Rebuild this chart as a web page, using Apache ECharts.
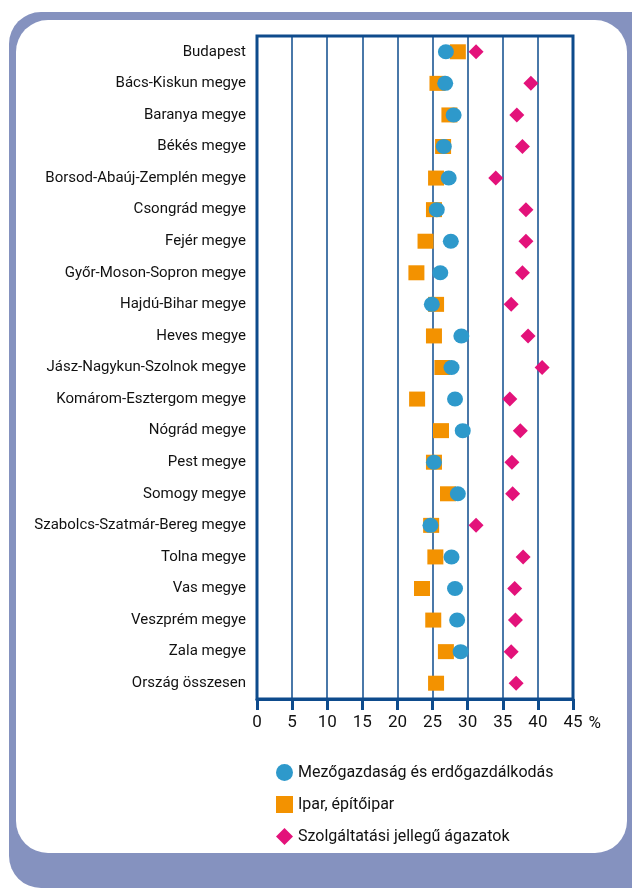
<!DOCTYPE html>
<html>
<head>
<meta charset="utf-8">
<script src="https://cdn.jsdelivr.net/npm/echarts@6/dist/echarts.min.js"></script>
<style>
html, body { margin: 0; padding: 0; background: #fff; }
#main { width: 632px; height: 888px; }
</style>
</head>
<body>
<div id="main"></div>
<script>
var categories = ['Budapest', 'Bács-Kiskun megye', 'Baranya megye', 'Békés megye',
    'Borsod-Abaúj-Zemplén megye', 'Csongrád megye', 'Fejér megye', 'Győr-Moson-Sopron megye',
    'Hajdú-Bihar megye', 'Heves megye', 'Jász-Nagykun-Szolnok megye', 'Komárom-Esztergom megye',
    'Nógrád megye', 'Pest megye', 'Somogy megye', 'Szabolcs-Szatmár-Bereg megye',
    'Tolna megye', 'Vas megye', 'Veszprém megye', 'Zala megye', 'Ország összesen'];

var mezogazdasag = [26.9, 26.8, 28.0, 26.6, 27.3, 25.6, 27.6, 26.1, 24.9, 29.1, 27.7,
    28.2, 29.3, 25.2, 28.6, 24.7, 27.7, 28.2, 28.5, 29.0, null];
var ipar = [28.6, 25.7, 27.4, 26.5, 25.5, 25.2, 24.0, 22.7, 25.5, 25.2, 26.4,
    22.8, 26.2, 25.2, 27.2, 24.8, 25.4, 23.5, 25.1, 26.9, 25.5];
var szolgaltatas = [31.2, 39.0, 37.0, 37.8, 34.0, 38.3, 38.3, 37.8, 36.2, 38.6, 40.6,
    36.0, 37.5, 36.3, 36.4, 31.2, 37.9, 36.7, 36.8, 36.2, 36.9];

var seriesNames = ['Mezőgazdaság és erdőgazdálkodás', 'Ipar, építőipar', 'Szolgáltatási jellegű ágazatok'];

var font = "Roboto, 'Liberation Sans', sans-serif";
var navy = '#0e4b8c';

var myChart = echarts.init(document.getElementById('main'));

var option = {
    animation: false,
    backgroundColor: '#fff',
    textStyle: {fontFamily: font},
    graphic: [
        {
            type: 'rect',
            z: -10,
            silent: true,
            shape: {x: 9, y: 12, width: 660, height: 876, r: 32},
            style: {fill: '#8592bf'}
        },
        {
            type: 'rect',
            z: -9,
            silent: true,
            shape: {x: 16, y: 20, width: 611, height: 833, r: 32},
            style: {fill: '#ffffff'}
        }
    ],
    grid: {
        left: 257,
        right: 59,
        top: 36,
        bottom: 189,
        show: true,
        borderColor: navy,
        borderWidth: 3,
        backgroundColor: 'transparent'
    },
    legend: {
        orient: 'vertical',
        left: 271,
        top: 759,
        itemWidth: 17,
        itemHeight: 17,
        itemGap: 15,
        data: [
            {name: seriesNames[0], icon: 'circle'},
            {name: seriesNames[1], icon: 'rect'},
            {name: seriesNames[2], icon: 'diamond'}
        ],
        textStyle: {fontFamily: font, fontSize: 16, color: '#111'}
    },
    xAxis: {
        type: 'value',
        min: 0,
        max: 45,
        interval: 5,
        name: '%',
        nameLocation: 'end',
        nameGap: 12,
        nameTextStyle: {fontFamily: font, fontSize: 17, color: '#111', verticalAlign: 'top', padding: [16, 0, 0, 0]},
        axisLine: {show: true, lineStyle: {color: navy, width: 3}},
        axisTick: {show: true, length: 11, lineStyle: {color: navy, width: 3}},
        axisLabel: {fontFamily: font, fontSize: 17, color: '#111', margin: 15},
        splitLine: {show: true, lineStyle: {color: navy, width: 1.5}}
    },
    yAxis: {
        type: 'category',
        inverse: true,
        data: categories,
        axisLine: {show: false},
        axisTick: {show: false},
        axisLabel: {fontFamily: font, fontSize: 15, color: '#111', margin: 11},
        splitLine: {show: false}
    },
    series: [
        {
            name: seriesNames[1],
            type: 'scatter',
            symbol: 'rect',
            symbolSize: [16, 15],
            z: 2,
            itemStyle: {color: '#f39200', opacity: 1},
            data: ipar
        },
        {
            name: seriesNames[0],
            type: 'scatter',
            symbol: 'circle',
            symbolSize: [16, 15],
            z: 3,
            itemStyle: {color: '#2e99cb', opacity: 1},
            data: mezogazdasag
        },
        {
            name: seriesNames[2],
            type: 'scatter',
            symbol: 'diamond',
            symbolSize: [15, 15],
            z: 4,
            itemStyle: {color: '#e3127a', opacity: 1},
            data: szolgaltatas
        }
    ]
};

myChart.setOption(option);
</script>
</body>
</html>
